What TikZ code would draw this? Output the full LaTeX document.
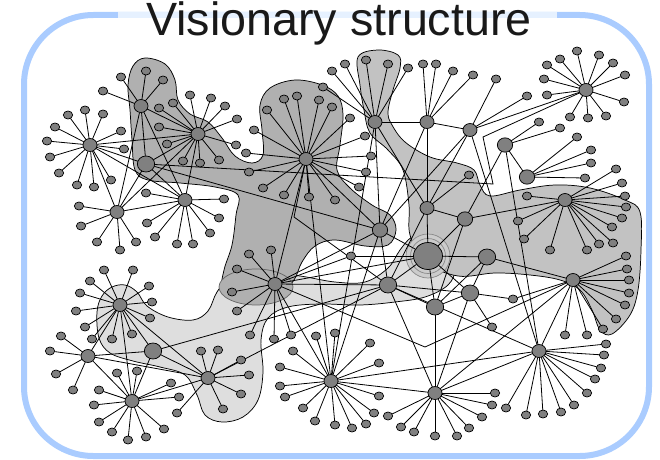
\documentclass[tikz,border=0pt]{standalone}
\usepackage{fontspec}
\setmainfont{Liberation Sans}
\usetikzlibrary{shapes.geometric}
\pgfdeclarelayer{bg}
\pgfdeclarelayer{edges}
\pgfsetlayers{bg,edges,main}
\definecolor{nodegray}{RGB}{128,128,128}
\definecolor{blobdark}{RGB}{176,176,176}
\definecolor{blobmid}{RGB}{194,194,194}
\definecolor{bloblight}{RGB}{222,222,222}
\definecolor{bordercol}{RGB}{170,204,255}
\definecolor{bandcol}{RGB}{230,241,255}
\definecolor{titlecol}{RGB}{25,25,25}
\tikzset{
 nd/.style={ellipse, draw=black, fill=nodegray, line width=0.55pt, inner sep=0pt, outer sep=0pt},
 leaf/.style={nd, minimum width=7pt, minimum height=6pt},
 hub/.style={nd, minimum width=10.5pt, minimum height=9.75pt},
 mid/.style={nd, minimum width=11.5pt, minimum height=10.75pt},
 big/.style={nd, minimum width=13pt, minimum height=12pt},
 huge/.style={nd, minimum width=21.75pt, minimum height=20.25pt},
 edge/.style={draw=black, line width=0.6pt},
 blob/.style={draw=black, line width=0.55pt},
}
\newcommand\hubleaves[2]{\foreach \lx/\ly [count=\li] in {#2}{\node[leaf] (#1-\li) at (\lx,\ly) {};\begin{pgfonlayer}{edges}\draw[edge] (#1) -- (#1-\li);\end{pgfonlayer}}}
\begin{document}
\begin{tikzpicture}[x=0.75pt,y=-0.75pt]
\useasboundingbox (0,0) rectangle (660,460);
% ---------- background: frame and regions
\begin{pgfonlayer}{bg}
\draw[bordercol, line width=4.5pt, rounded corners=52pt] (24,15) rectangle (649,456);
\fill[bandcol] (118,12) rectangle (557,18.2);
% light region
\filldraw[blob, fill=bloblight] plot[smooth cycle, tension=0.6] coordinates {
 (112,287) (125,285) (137,292) (147,306) (168,317) (193,320) (208,311) (217,292)
 (230,279) (260,272) (300,276) (335,282) (365,282) (388,268) (400,250) (412,237)
 (430,232) (448,244) (455,268) (448,285) (425,297) (395,302) (360,305) (320,304)
 (288,307) (268,318) (261,340) (263,372) (258,400) (243,417) (222,422) (205,415)
 (197,395) (185,375) (160,367) (133,361) (110,353) (99,338) (97,312) (102,296)};
% dark region
\filldraw[blob, fill=blobdark] plot[smooth cycle, tension=0.6] coordinates {
 (145,58) (165,64) (175,80) (178,100) (190,114) (208,122) (222,138) (235,156)
 (252,163) (263,155) (262,130) (260,105) (270,88) (295,80) (322,85) (338,96)
 (343,115) (340,145) (337,170) (350,188) (372,205) (390,215) (396,230) (388,245)
 (365,246) (335,240) (315,246) (302,262) (294,280) (280,293) (258,298) (235,298)
 (222,290) (224,270) (232,245) (236,215) (238,195) (215,187) (180,183) (148,180)
 (135,170) (132,140) (130,110) (128,85) (133,66)};
% oval round L
\filldraw[draw=black!60, line width=0.55pt, fill=blobdark] (256,287) ellipse [x radius=37, y radius=18];
% middle region
\filldraw[blob, fill=blobmid] plot[smooth cycle, tension=0.6] coordinates {
 (358,57) (378,50) (398,55) (400,68) (393,90) (388,112) (392,125) (405,142)
 (430,157) (457,163) (474,170) (480,185) (490,196) (520,190) (555,185) (590,188)
 (625,200) (640,212) (641,250) (638,290) (630,315) (612,334) (600,330) (592,310)
 (580,290) (560,280) (530,275) (495,273) (458,276) (425,262) (410,235) (409,205)
 (403,170) (388,150) (370,133) (364,110) (360,85)};
% halo round the large node
\filldraw[draw=black!45, line width=0.55pt, fill=black!20] (428,256) circle [radius=22];
\draw[draw=black!45, line width=0.55pt] (428,256) circle [radius=17.5];
\end{pgfonlayer}
% ---------- title
\node[font=\fontsize{35pt}{40pt}\selectfont, text=titlecol, anchor=base, inner sep=0pt] (title) at (339,35.5) {Visionary structure};
% ---------- main nodes
\node[hub] (A) at (90,145) {};
\node[hub] (B) at (141,106) {};
\node[hub] (C) at (198,134) {};
\node[big] (D) at (146,164) {};
\node[hub] (E) at (117,212) {};
\node[hub] (F) at (185,200) {};
\node[hub] (P) at (306,159) {};
\node[hub] (Q) at (375,122) {};
\node[hub] (R) at (427,122) {};
\node[hub] (T) at (470,130) {};
\node[hub] (U) at (586,90) {};
\node[mid] (V) at (505,145) {};
\node[mid] (W) at (527,177) {};
\node[hub] (X) at (565,200) {};
\node[mid] (M) at (380,230) {};
\node[hub] (S) at (427,208) {};
\node[mid] (Med) at (465,219) {};
\node[huge] (Z) at (428,256) {};
\node[big] (Y) at (487,257) {};
\node[hub] (L) at (275,284) {};
\node[big] (N) at (388,285) {};
\node[big] (O1) at (470,293) {};
\node[big] (O2) at (435,307) {};
\node[hub] (AA) at (573,280) {};
\node[hub] (BB) at (539,351) {};
\node[hub] (CC) at (435,393) {};
\node[hub] (DD) at (331,381) {};
\node[hub] (G) at (120,305) {};
\node[hub] (H) at (88,356) {};
\node[big] (I) at (153,351) {};
\node[hub] (J) at (132,401) {};
\node[hub] (K) at (208,378) {};
\node[leaf] (s1) at (351,256) {};
% ---------- leaves
\hubleaves{A}{47/141, 50/157, 59/173, 77/185, 94/187, 111/180, 124/149, 121/131, 103/114, 85/110, 68/115, 55/127}
\hubleaves{B}{121/77, 146/71, 163/80, 103/91}
\hubleaves{C}{173/103, 190/95, 211/98, 225/106, 237/119, 236/145, 219/160, 200/163, 183/161, 167/144, 159/127, 159/108}
\hubleaves{E}{79/206, 81/226, 97/242, 120/250, 136/242}
\hubleaves{F}{146/193, 147/223, 155/237, 177/244, 193/244, 210/233, 219/218, 224/199}
\hubleaves{P}{246/153, 249/172, 254/130, 267/110, 284/99, 297/96, 319/100, 332/107, 350/118, 365/136, 371/156, 366/172, 359/187, 335/200, 309/197, 284/195, 263/188}
\hubleaves{Q}{323/87, 332/71, 345/64, 366/60, 388/64, 408/68}
\hubleaves{R}{423/64, 436/64, 453/71, 473/75}
\hubleaves{T}{496/79, 527/96}
\hubleaves{U}{547/65, 560/59, 577/51, 599/55, 613/63, 625/75, 624/102, 606/116, 588/118, 570/117, 547/95, 544/79}
\hubleaves{V}{539/122, 560/128}
\hubleaves{W}{577/137, 591/150, 591/163, 585/178}
\hubleaves{X}{527/196, 616/169, 622/183, 625/196, 626/207, 622/218, 612/227, 518/221, 524/239, 550/250, 587/250, 599/244, 613/243}
\hubleaves{AA}{626/256, 627/269, 629/280, 629/293, 625/305, 616/319, 603/329, 587/335, 565/335}
\hubleaves{BB}{606/344, 604/355, 601/368, 595/379, 587/393, 574/405, 561/412, 543/414, 526/415, 506/408}
\hubleaves{CC}{495/393, 492/405, 482/417, 469/428, 457/436, 435/436, 414/432, 401/427, 388/416}
\hubleaves{DD}{316/336, 335/333, 370/343, 379/363, 379/396, 374/413, 366/424, 352/428, 335/425, 315/421, 303/408, 285/397, 280/386, 280/367, 293/351}
\hubleaves{L}{249/254, 271/250, 237/269, 232/292, 237/311, 250/335, 274/339, 291/335}
\hubleaves{G}{104/270, 133/270, 90/281, 149/286, 80/293, 152/302, 76/311, 150/318, 85/327, 92/339, 112/339, 132/334}
\hubleaves{H}{61/336, 50/351, 56/374, 73/390}
\hubleaves{J}{117/373, 137/371, 99/390, 94/405, 99/422, 112/432, 128/440, 146/437, 164/429, 179/397, 171/383}
\hubleaves{K}{201/351, 218/350, 241/360, 249/375, 241/394, 223/409, 177/413}
\hubleaves{S}{469/175}
\hubleaves{O1}{492/327, 513/299}
% ---------- connectors between main nodes
\coordinate (b1) at (493,184);
\coordinate (b2) at (483,137);
\coordinate (b3) at (294,217);
\coordinate (b4) at (425,347);
\begin{pgfonlayer}{edges}
\foreach \a/\b in {A/C, A/D, A/E, A/F, B/C, B/D, B/E, B/F, C/D, C/E, C/F, D/E, D/F, E/F, D/M,
  P/L, P/M, P/DD, Q/R, Q/M, Q/S, Q/DD, R/T, R/S, R/M, T/U, T/S, T/M, T/BB,
  V/W, V/BB, V/Med, X/Med, S/Z, S/Med, S/N, Med/Z, Med/O2, Z/Y, Z/N, Z/M, Z/O2, Z/O1,
  N/O1, N/O2, N/M, N/L, N/I, N/CC, N/BB, O2/O1, O2/CC, O2/Y, O1/Y, O1/CC, Y/AA, AA/CC, AA/BB,
  BB/DD, CC/DD, CC/BB, L/DD, L/M, L/Z, M/DD,
  G/H, G/I, G/J, G/K, H/I, H/J, H/K, I/J, I/K, J/K, K/N, L/s1, Z/s1, AA/O1-2}
  \draw[edge] (\a) -- (\b);
\draw[edge] (D) -- (b1) -- (b2) -- (U);
\draw[edge] (P) -- (b3) -- (N);
\draw[edge] (L) -- (b4) -- (AA);
\end{pgfonlayer}
\end{tikzpicture}
\end{document}
